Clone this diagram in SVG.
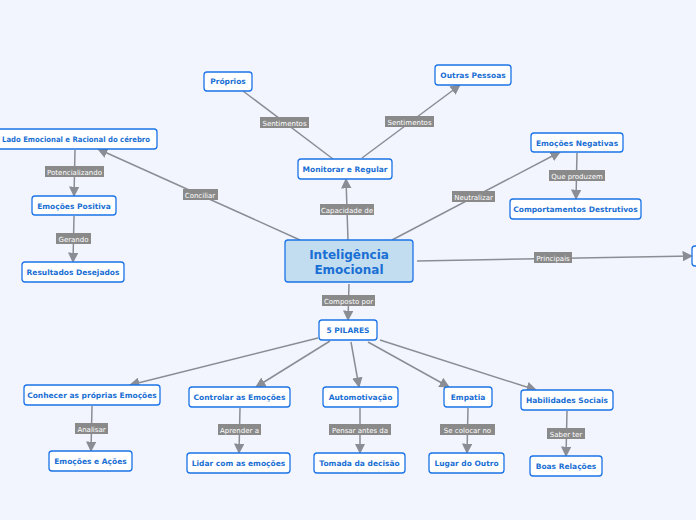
<svg xmlns="http://www.w3.org/2000/svg" width="696" height="520" viewBox="0 0 696 520">
<defs>
<marker id="a" viewBox="0 0 10 10" refX="9" refY="5" markerWidth="7" markerHeight="7" orient="auto"><path d="M0,0 L10,5 L0,10 z" fill="#8a8d94"/></marker>
<style>
.n rect{fill:#fff;stroke:#1a73e8;stroke-width:1.3}
.n text{fill:#1a6fd4;font:bold 7.5px "DejaVu Sans",sans-serif;text-anchor:middle}
#conn line{stroke:#8a8d94;stroke-width:1.5}
.ar{marker-end:url(#a)}
.l rect{fill:#8a8a8a}
.l text{fill:#fff;font:7px "DejaVu Sans",sans-serif;text-anchor:middle}
</style>
</defs>
<rect width="696" height="520" fill="#f2f5fd"/>
<g id="conn">
<line class="ar" x1="300" y1="240" x2="98" y2="149"/>
<line class="ar" x1="348" y1="240" x2="346" y2="179"/>
<line x1="333" y1="159" x2="243" y2="91"/>
<line class="ar" x1="362" y1="158" x2="460" y2="85"/>
<line class="ar" x1="392" y1="240" x2="560" y2="152"/>
<line class="ar" x1="577" y1="153" x2="576" y2="199"/>
<line class="ar" x1="75" y1="150" x2="74" y2="196"/>
<line class="ar" x1="74" y1="216" x2="73" y2="262"/>
<line class="ar" x1="417" y1="261" x2="692" y2="256"/>
<line class="ar" x1="349" y1="284" x2="348" y2="320"/>
<line class="ar" x1="318" y1="338" x2="130" y2="385"/>
<line class="ar" x1="330" y1="341" x2="256" y2="387"/>
<line class="ar" x1="351" y1="342" x2="359" y2="387"/>
<line class="ar" x1="368" y1="342" x2="449" y2="387"/>
<line class="ar" x1="380" y1="340" x2="536" y2="390"/>
<line class="ar" x1="92" y1="406" x2="91" y2="451"/>
<line class="ar" x1="240" y1="408" x2="239" y2="453"/>
<line class="ar" x1="360" y1="408" x2="360" y2="453"/>
<line class="ar" x1="468" y1="408" x2="467" y2="453"/>
<line class="ar" x1="567" y1="411" x2="566" y2="456"/>
</g>
<g class="l">
<rect x="183" y="189" width="35" height="11"/><text x="200" y="197.5">Conciliar</text>
<rect x="320" y="204" width="54" height="11"/><text x="347" y="212.5">Capacidade de</text>
<rect x="260" y="117" width="49" height="11"/><text x="284.5" y="125.5">Sentimentos</text>
<rect x="385" y="116" width="49" height="11"/><text x="409.5" y="124.5">Sentimentos</text>
<rect x="452" y="191" width="43" height="11"/><text x="473.5" y="199.5">Neutralizar</text>
<rect x="549" y="170" width="56" height="11"/><text x="577" y="178.5">Que produzem</text>
<rect x="45" y="166" width="59" height="11"/><text x="74.5" y="174.5">Potencializando</text>
<rect x="56" y="233" width="35" height="11"/><text x="73.5" y="241.5">Gerando</text>
<rect x="534" y="252" width="38" height="11"/><text x="553" y="260.5">Principais</text>
<rect x="322" y="295" width="53" height="11"/><text x="348.5" y="303.5">Composto por</text>
<rect x="75" y="423" width="33" height="11"/><text x="91.5" y="431.5">Analisar</text>
<rect x="218" y="424" width="43" height="11"/><text x="239.5" y="432.5">Aprender a</text>
<rect x="329" y="424" width="62" height="11"/><text x="360" y="432.5">Pensar antes da</text>
<rect x="440" y="424" width="55" height="11"/><text x="467.5" y="432.5">Se colocar no</text>
<rect x="547" y="428" width="38" height="11"/><text x="566" y="436.5">Saber ter</text>
</g>
<g id="central" class="n"><rect x="285" y="240" width="128" height="42" rx="3" style="fill:#c2ddf0"/><text x="349" y="259" style="font-size:12px">Inteligência</text><text x="349" y="274" style="font-size:12px">Emocional</text></g>
<g id="proprios" class="n"><rect x="204" y="72" width="48" height="19" rx="3"/><text x="228" y="84">Próprios</text></g>
<g id="outras" class="n"><rect x="435" y="65" width="76" height="20" rx="3"/><text x="473" y="78">Outras Pessoas</text></g>
<g id="lado" class="n"><rect x="-4" y="129" width="161" height="20" rx="3"/><text x="76" y="142" textLength="148" lengthAdjust="spacingAndGlyphs">Lado Emocional e Racional do cérebro</text></g>
<g id="monitorar" class="n"><rect x="298" y="159" width="94" height="20" rx="3"/><text x="345" y="172">Monitorar e Regular</text></g>
<g id="negativas" class="n"><rect x="531" y="133" width="92" height="19" rx="3"/><text x="577" y="145.5">Emoções Negativas</text></g>
<g id="positiva" class="n"><rect x="32" y="196" width="84" height="19" rx="3"/><text x="74" y="208.5">Emoções Positiva</text></g>
<g id="comport" class="n"><rect x="510" y="199" width="131" height="20" rx="3"/><text x="575.5" y="212">Comportamentos Destrutivos</text></g>
<g id="resultados" class="n"><rect x="22" y="262" width="102" height="20" rx="3"/><text x="73" y="275">Resultados Desejados</text></g>
<g id="direita" class="n"><rect x="692" y="246" width="12" height="20" rx="3"/></g>
<g id="pilares" class="n"><rect x="319" y="320" width="58" height="20" rx="3"/><text x="348" y="333">5 PILARES</text></g>
<g id="conhecer" class="n"><rect x="24" y="385" width="136" height="20" rx="3"/><text x="92" y="398">Conhecer as próprias Emoções</text></g>
<g id="controlar" class="n"><rect x="189" y="387" width="101" height="20" rx="3"/><text x="239.5" y="400">Controlar as Emoções</text></g>
<g id="automot" class="n"><rect x="323" y="387" width="75" height="20" rx="3"/><text x="360.5" y="400">Automotivação</text></g>
<g id="empatia" class="n"><rect x="444" y="387" width="48" height="20" rx="3"/><text x="468" y="400">Empatia</text></g>
<g id="habilid" class="n"><rect x="521" y="390" width="92" height="20" rx="3"/><text x="567" y="403">Habilidades Sociais</text></g>
<g id="emoacoes" class="n"><rect x="49" y="451" width="83" height="20" rx="3"/><text x="90.5" y="464">Emoções e Ações</text></g>
<g id="lidar" class="n"><rect x="187" y="453" width="103" height="20" rx="3"/><text x="238.5" y="466">Lidar com as emoções</text></g>
<g id="tomada" class="n"><rect x="314" y="453" width="91" height="20" rx="3"/><text x="359.5" y="466">Tomada da decisão</text></g>
<g id="lugar" class="n"><rect x="429" y="453" width="75" height="20" rx="3"/><text x="466.5" y="466">Lugar do Outro</text></g>
<g id="boas" class="n"><rect x="530" y="456" width="72" height="20" rx="3"/><text x="566" y="469">Boas Relações</text></g>
</svg>
